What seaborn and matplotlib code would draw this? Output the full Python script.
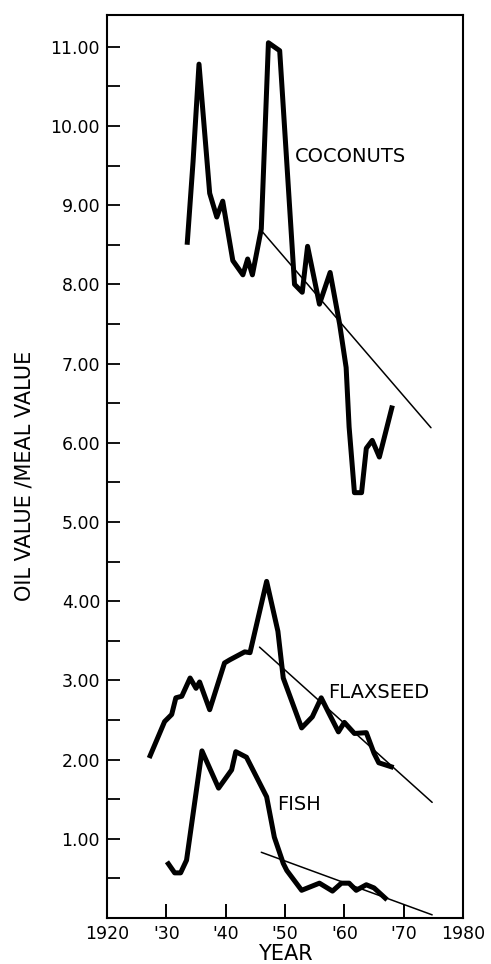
import matplotlib
matplotlib.use("Agg")
import matplotlib.pyplot as plt
import seaborn as sns
import pandas as pd
from matplotlib.ticker import FixedLocator, MultipleLocator

# ---- data ----
coconut_years = [1933.5, 1934.5, 1935.5, 1937.3, 1938.5, 1939.5, 1941.2, 1942.9, 1943.7,
                 1944.5, 1946.0, 1947.2, 1949.1, 1951.6, 1952.9, 1953.8, 1955.8, 1957.6,
                 1959.2, 1960.3, 1960.8, 1961.7, 1962.9, 1963.7, 1964.7, 1965.9, 1968.1]
coconut_values = [8.5, 9.55, 10.78, 9.15, 8.85, 9.05, 8.3, 8.12, 8.32,
                  8.12, 8.7, 11.05, 10.95, 8.0, 7.9, 8.48, 7.75, 8.15,
                  7.5, 6.95, 6.2, 5.37, 5.37, 5.93, 6.03, 5.82, 6.47]

flax_years = [1927.1, 1929.7, 1930.9, 1931.6, 1932.6, 1934.0, 1935.0, 1935.6, 1937.3,
              1939.8, 1940.7, 1943.2, 1944.1, 1946.9, 1948.8, 1949.7, 1952.8, 1954.6,
              1956.1, 1957.3, 1959.0, 1960.0, 1961.7, 1963.7, 1965.0, 1965.8, 1968.3]
flax_values = [2.02, 2.48, 2.57, 2.78, 2.80, 3.03, 2.90, 2.98, 2.63,
               3.22, 3.26, 3.36, 3.35, 4.25, 3.62, 3.03, 2.40, 2.54,
               2.78, 2.60, 2.35, 2.47, 2.33, 2.34, 2.08, 1.96, 1.90]

fish_years = [1930.1, 1931.4, 1932.4, 1933.4, 1936.0, 1938.8, 1941.0, 1941.7, 1943.5,
              1946.9, 1948.2, 1949.7, 1950.3, 1952.8, 1955.8, 1958.0, 1959.5, 1960.8,
              1962.0, 1963.7, 1965.0, 1967.2]
fish_values = [0.71, 0.57, 0.57, 0.73, 2.11, 1.64, 1.87, 2.10, 2.03,
               1.53, 1.02, 0.69, 0.60, 0.35, 0.44, 0.34, 0.44, 0.44,
               0.35, 0.42, 0.38, 0.23]

coconut_trend_years = [1946.0, 1974.6]
coconut_trend_values = [8.68, 6.19]
flax_trend_years = [1945.7, 1974.8]
flax_trend_values = [3.42, 1.46]
fish_trend_years = [1946.0, 1974.8]
fish_trend_values = [0.83, 0.04]

x_ticks = [1920, 1930, 1940, 1950, 1960, 1970, 1980]
x_tick_labels = ["1920", "'30", "'40", "'50", "'60", "'70", "1980"]
y_ticks = [1, 2, 3, 4, 5, 6, 7, 8, 9, 10, 11]
y_tick_labels = ["1.00", "2.00", "3.00", "4.00", "5.00", "6.00",
                 "7.00", "8.00", "9.00", "10.00", "11.00"]

series_labels = ["COCONUTS", "FLAXSEED", "FISH"]
label_x = [1951.6, 1957.3, 1948.6]
label_y = [9.61, 2.85, 1.43]

# ---- style ----
sns.set_style("white")
plt.rcParams['font.family'] = ['DejaVu Sans']
plt.rcParams['xtick.bottom'] = True
plt.rcParams['ytick.left'] = True
plt.rcParams['xtick.direction'] = 'in'
plt.rcParams['ytick.direction'] = 'in'
plt.rcParams['xtick.major.size'] = 10
plt.rcParams['xtick.major.width'] = 1.4

fig = plt.figure(figsize=(4.91, 9.64), dpi=100)
ax = fig.add_axes([0.218, 0.0477, 0.725, 0.9367])

thick = dict(color="black", linewidth=3.6, sort=False, estimator=None,
             solid_joinstyle="round", solid_capstyle="butt")
thin = dict(color="black", linewidth=1.1, sort=False, estimator=None)

for yrs, vals in [(coconut_years, coconut_values),
                  (flax_years, flax_values),
                  (fish_years, fish_values)]:
    df = pd.DataFrame({"year": yrs, "value": vals})
    sns.lineplot(data=df, x="year", y="value", ax=ax, **thick)

for yrs, vals in [(coconut_trend_years, coconut_trend_values),
                  (flax_trend_years, flax_trend_values),
                  (fish_trend_years, fish_trend_values)]:
    df = pd.DataFrame({"year": yrs, "value": vals})
    sns.lineplot(data=df, x="year", y="value", ax=ax, **thin)

for txt, lx, ly in zip(series_labels, label_x, label_y):
    ax.text(lx, ly, txt, fontsize=14, ha="left", va="center", color="black")

ax.set_xlim(1920, 1980)
ax.set_ylim(0, 11.4)

ax.xaxis.set_major_locator(FixedLocator(x_ticks))
ax.set_xticklabels(x_tick_labels)
ax.yaxis.set_major_locator(FixedLocator(y_ticks))
ax.set_yticklabels(y_tick_labels)
ax.yaxis.set_minor_locator(MultipleLocator(0.5))

ax.xaxis.set_ticks_position("bottom")
ax.yaxis.set_ticks_position("left")
ax.tick_params(axis="x", which="major", direction="in", length=10, width=1.4,
               colors="black", labelsize=12.5, bottom=True, top=False, pad=5)
ax.tick_params(axis="y", which="both", direction="in", length=9, width=1.3,
               colors="black", labelsize=12.5, left=True, right=False, pad=5)

for s in ax.spines.values():
    s.set_visible(True)
    s.set_color("black")
    s.set_linewidth(1.5)

ax.set_xlabel("YEAR", fontsize=15, labelpad=1, color="black")
ax.set_ylabel("OIL VALUE /MEAL VALUE", fontsize=15, labelpad=10, color="black")
ax.yaxis.set_label_coords(-0.205, 0.49)

fig.savefig("out.png", dpi=100, facecolor="white")
